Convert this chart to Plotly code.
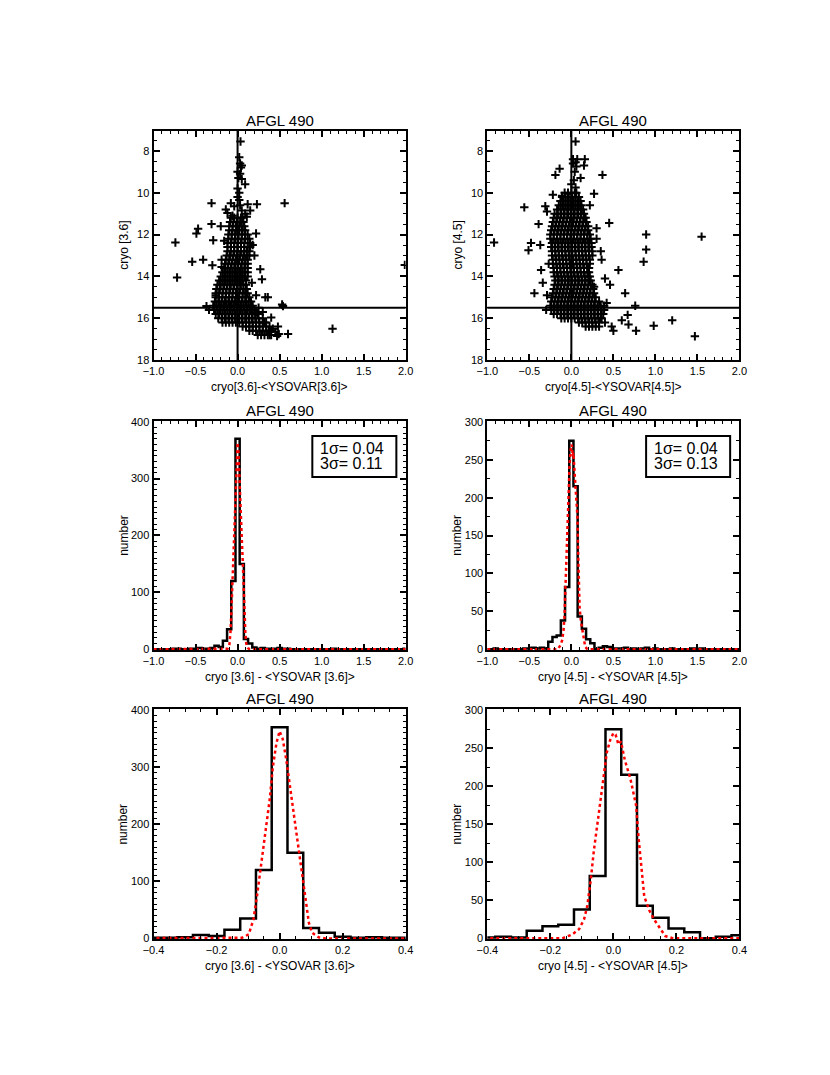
import plotly.graph_objects as go

W, H = 830, 1075
FONT = 'Liberation Sans, Arial, Helvetica, sans-serif'

# ---------------- data ----------------
# [3.6] scatter: cryo[3.6] - <YSOVAR[3.6]> against cryo [3.6]
# dense part of the cloud, one row per magnitude level: (mag, [dx, ...])
core_36 = [
    (11.2, [-0.08, -0.04, 0.00, 0.04, 0.06]),
    (11.4, [-0.09, -0.05, -0.01, 0.03, 0.07]),
    (11.6, [-0.10, -0.06, -0.02, 0.02, 0.05, 0.08]),
    (11.8, [-0.10, -0.06, -0.02, 0.02, 0.06, 0.09]),
    (12.0, [-0.11, -0.07, -0.03, 0.01, 0.05, 0.09, 0.12]),
    (12.2, [-0.11, -0.07, -0.03, 0.01, 0.05, 0.09, 0.14]),
    (12.4, [-0.12, -0.08, -0.04, 0.00, 0.04, 0.08, 0.12, 0.15]),
    (12.6, [-0.12, -0.08, -0.04, 0.00, 0.04, 0.08, 0.12, 0.15]),
    (12.8, [-0.12, -0.08, -0.04, 0.00, 0.04, 0.08, 0.11, 0.14]),
    (13.0, [-0.13, -0.09, -0.05, -0.01, 0.03, 0.07, 0.11, 0.14]),
    (13.2, [-0.14, -0.10, -0.06, -0.02, 0.02, 0.06, 0.09, 0.12]),
    (13.4, [-0.15, -0.11, -0.07, -0.03, 0.01, 0.05, 0.09, 0.12]),
    (13.6, [-0.16, -0.12, -0.08, -0.04, 0.00, 0.04, 0.08, 0.12]),
    (13.8, [-0.18, -0.14, -0.10, -0.06, -0.02, 0.02, 0.06, 0.09, 0.12]),
    (14.0, [-0.20, -0.16, -0.12, -0.08, -0.04, 0.00, 0.04, 0.08, 0.12]),
    (14.2, [-0.22, -0.18, -0.14, -0.10, -0.06, -0.02, 0.02, 0.06, 0.10]),
    (14.4, [-0.24, -0.20, -0.16, -0.12, -0.08, -0.04, 0.00, 0.04, 0.07, 0.10]),
    (14.6, [-0.25, -0.21, -0.17, -0.13, -0.09, -0.05, -0.01, 0.03, 0.07, 0.11]),
    (14.8, [-0.26, -0.22, -0.18, -0.14, -0.10, -0.06, -0.02, 0.02, 0.06, 0.09, 0.12]),
    (15.0, [-0.26, -0.22, -0.18, -0.14, -0.10, -0.06, -0.02, 0.02, 0.06, 0.10, 0.14]),
    (15.2, [-0.27, -0.23, -0.19, -0.15, -0.11, -0.07, -0.03, 0.01, 0.05, 0.09,
            0.13, 0.16]),
    (15.4, [-0.29, -0.25, -0.21, -0.17, -0.13, -0.09, -0.05, -0.01, 0.03, 0.07,
            0.11, 0.15, 0.18]),
    (15.6, [-0.28, -0.24, -0.20, -0.16, -0.12, -0.08, -0.04, 0.00, 0.04, 0.08,
            0.12, 0.16, 0.20]),
    (15.8, [-0.26, -0.22, -0.18, -0.14, -0.10, -0.06, -0.02, 0.02, 0.06, 0.10,
            0.14, 0.18, 0.21, 0.24]),
    (16.0, [-0.23, -0.19, -0.15, -0.11, -0.07, -0.03, 0.01, 0.05, 0.09, 0.13,
            0.17, 0.21, 0.25, 0.30]),
    (16.2, [-0.18, -0.14, -0.10, -0.06, -0.02, 0.02, 0.06, 0.10, 0.14, 0.18,
            0.22, 0.26, 0.30, 0.34]),
    (16.4, [0.06, 0.10, 0.14, 0.18, 0.22, 0.26, 0.30, 0.34, 0.38]),
    (16.6, [0.14, 0.18, 0.22, 0.26, 0.30, 0.34, 0.37, 0.40]),
    (16.8, [0.24, 0.28, 0.32, 0.36, 0.40]),
]
# sparse points and outliers
edge_36 = [
    (0.035, 7.55), (0.02, 8.3), (0.03, 8.6), (0.05, 8.7), (0.04, 8.8),
    (0.00, 9.0), (0.03, 9.1), (0.01, 9.3), (0.05, 9.35), (0.09, 9.6),
    (0.00, 9.8), (0.02, 10.0), (0.00, 10.2), (0.02, 10.35),
    (-0.31, 10.5), (0.56, 10.5), (-0.08, 10.5), (0.12, 10.55), (0.23, 10.55),
    (-0.04, 10.65), (0.03, 10.6), (0.15, 10.85), (-0.14, 10.8), (0.05, 10.85),
    (-0.12, 10.97), (0.09, 11.0), (-0.06, 11.1), (0.11, 11.15),
    (-0.31, 11.5), (-0.20, 11.6), (-0.47, 11.72), (-0.49, 11.95), (-0.74, 12.38),
    (-0.29, 12.27), (-0.16, 12.3), (0.22, 11.95), (-0.54, 13.3), (-0.41, 13.2),
    (-0.30, 13.47), (-0.19, 13.2), (-0.19, 13.55), (-0.72, 14.05), (0.27, 13.66),
    (0.29, 14.14), (0.33, 15.0), (0.36, 15.0), (0.53, 15.34), (0.54, 15.42),
    (0.22, 15.73), (0.40, 15.97), (1.13, 16.5), (0.60, 16.75), (0.48, 16.4),
    (0.49, 16.75), (0.47, 16.85), (-0.37, 15.42), (-0.34, 15.6), (1.99, 13.45),
    (-0.25, 14.6), (-0.26, 14.9), (0.18, 12.5), (0.20, 13.0), (0.17, 14.3),
    (0.22, 14.9), (0.25, 15.5), (0.30, 15.7), (0.32, 16.2), (0.42, 16.5),
    (0.45, 16.65), (0.38, 16.8),
]

# [4.5] scatter
core_45 = [
    (10.0, [-0.08, -0.04, 0.00, 0.04, 0.06]),
    (10.2, [-0.11, -0.07, -0.03, 0.01, 0.05, 0.09]),
    (10.4, [-0.13, -0.09, -0.05, -0.01, 0.03, 0.07, 0.11]),
    (10.6, [-0.15, -0.11, -0.07, -0.03, 0.01, 0.05, 0.09, 0.12]),
    (10.8, [-0.17, -0.13, -0.09, -0.05, -0.01, 0.03, 0.07, 0.11, 0.14]),
    (11.0, [-0.20, -0.16, -0.12, -0.08, -0.04, 0.00, 0.04, 0.08, 0.12, 0.15]),
    (11.2, [-0.21, -0.17, -0.13, -0.09, -0.05, -0.01, 0.03, 0.07, 0.11, 0.15,
            0.17]),
    (11.4, [-0.22, -0.18, -0.14, -0.10, -0.06, -0.02, 0.02, 0.06, 0.10, 0.14,
            0.18]),
    (11.6, [-0.23, -0.19, -0.15, -0.11, -0.07, -0.03, 0.01, 0.05, 0.09, 0.13,
            0.17, 0.20]),
    (11.8, [-0.24, -0.20, -0.16, -0.12, -0.08, -0.04, 0.00, 0.04, 0.08, 0.12,
            0.16, 0.20]),
    (12.0, [-0.25, -0.21, -0.17, -0.13, -0.09, -0.05, -0.01, 0.03, 0.07, 0.11,
            0.15, 0.19, 0.22]),
    (12.2, [-0.25, -0.21, -0.17, -0.13, -0.09, -0.05, -0.01, 0.03, 0.07, 0.11,
            0.15, 0.19, 0.23]),
    (12.4, [-0.23, -0.19, -0.15, -0.11, -0.07, -0.03, 0.01, 0.05, 0.09, 0.13,
            0.17, 0.21, 0.24]),
    (12.6, [-0.24, -0.20, -0.16, -0.12, -0.08, -0.04, 0.00, 0.04, 0.08, 0.12,
            0.16, 0.20, 0.24]),
    (12.8, [-0.23, -0.19, -0.15, -0.11, -0.07, -0.03, 0.01, 0.05, 0.09, 0.13,
            0.17, 0.21, 0.25]),
    (13.0, [-0.23, -0.19, -0.15, -0.11, -0.07, -0.03, 0.01, 0.05, 0.09, 0.13,
            0.17, 0.21, 0.25]),
    (13.2, [-0.22, -0.18, -0.14, -0.10, -0.06, -0.02, 0.02, 0.06, 0.10, 0.14,
            0.18, 0.22]),
    (13.4, [-0.22, -0.18, -0.14, -0.10, -0.06, -0.02, 0.02, 0.06, 0.10, 0.14,
            0.18, 0.22]),
    (13.6, [-0.21, -0.17, -0.13, -0.09, -0.05, -0.01, 0.03, 0.07, 0.11, 0.15,
            0.19, 0.21]),
    (13.8, [-0.21, -0.17, -0.13, -0.09, -0.05, -0.01, 0.03, 0.07, 0.11, 0.15,
            0.19, 0.21]),
    (14.0, [-0.20, -0.16, -0.12, -0.08, -0.04, 0.00, 0.04, 0.08, 0.12, 0.16,
            0.20, 0.22]),
    (14.2, [-0.19, -0.15, -0.11, -0.07, -0.03, 0.01, 0.05, 0.09, 0.13, 0.17,
            0.21, 0.23]),
    (14.4, [-0.20, -0.16, -0.12, -0.08, -0.04, 0.00, 0.04, 0.08, 0.12, 0.16,
            0.20, 0.25]),
    (14.6, [-0.21, -0.17, -0.13, -0.09, -0.05, -0.01, 0.03, 0.07, 0.11, 0.15,
            0.19, 0.23, 0.26]),
    (14.8, [-0.22, -0.18, -0.14, -0.10, -0.06, -0.02, 0.02, 0.06, 0.10, 0.14,
            0.18, 0.22, 0.27]),
    (15.0, [-0.23, -0.19, -0.15, -0.11, -0.07, -0.03, 0.01, 0.05, 0.09, 0.13,
            0.17, 0.21, 0.25, 0.29]),
    (15.2, [-0.24, -0.20, -0.16, -0.12, -0.08, -0.04, 0.00, 0.04, 0.08, 0.12,
            0.16, 0.20, 0.24, 0.28, 0.33]),
    (15.4, [-0.25, -0.21, -0.17, -0.13, -0.09, -0.05, -0.01, 0.03, 0.07, 0.11,
            0.15, 0.19, 0.23, 0.27, 0.31, 0.35, 0.39]),
    (15.6, [-0.24, -0.20, -0.16, -0.12, -0.08, -0.04, 0.00, 0.04, 0.08, 0.12,
            0.16, 0.20, 0.24, 0.28, 0.32, 0.36, 0.39]),
    (15.8, [-0.21, -0.17, -0.13, -0.09, -0.05, -0.01, 0.03, 0.07, 0.11, 0.15,
            0.19, 0.23, 0.27, 0.31, 0.35, 0.38]),
    (16.0, [-0.12, -0.08, -0.04, 0.00, 0.04, 0.08, 0.12, 0.16, 0.20, 0.24,
            0.28, 0.32, 0.36]),
    (16.2, [0.09, 0.13, 0.17, 0.21, 0.25, 0.29, 0.33]),
    (16.4, [0.17, 0.21, 0.25, 0.29, 0.33]),
]
edge_45 = [
    (0.05, 7.55), (0.02, 8.4), (0.05, 8.55), (0.07, 8.4), (0.16, 8.4),
    (0.15, 8.7), (0.06, 8.75), (0.02, 8.6), (-0.14, 8.85), (-0.19, 9.15),
    (0.37, 9.15), (0.11, 9.3), (0.04, 9.0), (0.03, 9.4), (0.00, 9.6),
    (0.05, 9.75), (-0.22, 10.1), (-0.11, 10.15), (-0.04, 10.05), (0.27, 10.05),
    (-0.56, 10.7), (-0.31, 10.65), (-0.29, 10.9), (0.22, 10.6), (0.45, 11.45),
    (-0.39, 11.5), (0.89, 12.0), (1.55, 12.1), (-0.92, 12.38), (-0.48, 12.4),
    (-0.51, 12.75), (-0.37, 12.5), (0.89, 12.72), (0.86, 13.3), (0.35, 12.8),
    (0.36, 13.2), (0.56, 13.7), (-0.36, 13.7), (0.40, 14.1), (0.46, 14.4),
    (-0.44, 14.8), (-0.34, 14.3), (-0.29, 14.9), (0.64, 14.8), (0.27, 14.5),
    (0.76, 15.4), (0.42, 15.27), (0.67, 15.84), (0.60, 16.1), (0.68, 16.3),
    (0.77, 16.6), (0.98, 16.36), (1.20, 16.1), (1.47, 16.86), (0.48, 16.4),
    (0.50, 16.6), (0.35, 16.0), (0.40, 16.2), (-0.30, 15.6), (-0.27, 13.4),
    (0.30, 12.2), (0.30, 11.7),
]

# histograms, 0.05 wide bins
bin_centres = [
    -1.00, -0.95, -0.90, -0.85, -0.80, -0.75, -0.70, -0.65, -0.60, -0.55,
    -0.50, -0.45, -0.40, -0.35, -0.30, -0.25, -0.20, -0.15, -0.10, -0.05,
    0.00, 0.05, 0.10, 0.15, 0.20, 0.25, 0.30, 0.35, 0.40, 0.45,
    0.50, 0.55, 0.60, 0.65, 0.70, 0.75, 0.80, 0.85, 0.90, 0.95,
    1.00, 1.05, 1.10, 1.15, 1.20, 1.25, 1.30, 1.35, 1.40, 1.45,
    1.50, 1.55, 1.60, 1.65, 1.70, 1.75, 1.80, 1.85, 1.90, 1.95,
    2.00,
]
counts_36 = [
    0, 0, 0, 0, 0, 1, 1, 0, 0, 1,
    1, 2, 1, 1, 2, 6, 4, 15, 35, 120,
    370, 150, 18, 10, 3, 1, 2, 1, 1, 1,
    2, 1, 1, 0, 0, 0, 0, 0, 0, 0,
    0, 0, 0, 1, 0, 0, 0, 0, 0, 0,
    0, 0, 0, 0, 0, 0, 0, 0, 0, 0,
    1,
]
counts_45 = [
    0, 0, 1, 0, 0, 0, 0, 0, 0, 1,
    1, 2, 1, 2, 1, 10, 16, 18, 38, 82,
    275, 215, 43, 27, 13, 8, 0, 2, 4, 3,
    1, 1, 1, 2, 0, 1, 0, 1, 2, 0,
    1, 0, 0, 0, 1, 0, 0, 0, 0, 1,
    0, 1, 0, 0, 0, 0, 0, 0, 0, 0,
    0,
]

# gaussian fits (red dotted)
fit36_x = [-1.0, -0.15, -0.12, -0.098, -0.083, -0.072, -0.062, -0.052, -0.041,
           -0.031, -0.021, -0.010, 0.0, 0.010, 0.021, 0.031, 0.041, 0.052,
           0.062, 0.072, 0.083, 0.093, 0.103, 0.124, 0.145, 2.0]
fit36_y = [0, 0, 1, 7, 33, 73, 113, 153, 199, 245, 302, 342, 363, 349, 314,
           274, 228, 188, 153, 107, 61, 27, 10, 2, 0, 0]
fit45_x = [-1.0, -0.162, -0.131, -0.109, -0.093, -0.083, -0.072, -0.062,
           -0.047, -0.031, -0.021, -0.010, 0.0, 0.007, 0.016, 0.024, 0.036,
           0.054, 0.072, 0.080, 0.088, 0.098, 0.114, 0.129, 0.150, 0.165,
           0.19, 2.0]
fit45_y = [0, 0, 5, 12, 25, 42, 76, 115, 162, 214, 244, 261, 270, 268, 255,
           259, 235, 210, 175, 132, 98, 55, 37, 25, 12, 3, 0, 0]

sigma_36 = ['1\u03c3= 0.04', '3\u03c3= 0.11']
sigma_45 = ['1\u03c3= 0.04', '3\u03c3= 0.13']

title = 'AFGL 490'
xtitles = ['cryo[3.6]-<YSOVAR[3.6]>', 'cryo[4.5]-<YSOVAR[4.5]>',
           'cryo [3.6] - <YSOVAR [3.6]>', 'cryo [4.5] - <YSOVAR [4.5]>',
           'cryo [3.6] - <YSOVAR [3.6]>', 'cryo [4.5] - <YSOVAR [4.5]>']
ytitles = ['cryo [3.6]', 'cryo [4.5]', 'number', 'number', 'number', 'number']

# ---------------- layout (pixels) ----------------
COLS = [(137.7, 395.7), (479.3, 737.3)]
ROWS = [(118.3, 350.0), (411.7, 643.3), (703.3, 935.7)]


def px(x):
    return x / W


def py(y):
    return 1 - y / H


def flatten(core, edge):
    xs, ys = [], []
    for mag, dxs in core:
        xs += dxs
        ys += [mag] * len(dxs)
    for dx, mag in edge:
        xs.append(dx)
        ys.append(mag)
    return xs, ys


def axis(rng, dtick, minor, fmt=None):
    d = dict(range=rng, dtick=dtick, tick0=0, showline=True, linecolor='black',
             linewidth=2, mirror='allticks', ticks='inside', ticklen=6,
             tickwidth=1.5, tickcolor='black', showgrid=False, zeroline=False,
             minor=dict(ticks='inside', ticklen=3, tickwidth=1.2,
                        tickcolor='black', dtick=minor, tick0=0),
             tickfont=dict(size=11, color='black', family=FONT))
    if fmt:
        d['tickformat'] = fmt
    return d


fig = go.Figure()
layout = dict(width=W, height=H, margin=dict(t=0, l=0, r=0, b=0),
              plot_bgcolor='white', paper_bgcolor='white', showlegend=False,
              font=dict(family=FONT, color='black'))
annotations, shapes = [], []

scatter_sets = [flatten(core_36, edge_36), flatten(core_45, edge_45)]
hist_sets = [(counts_36, fit36_x, fit36_y), (counts_45, fit45_x, fit45_y)]

for n in range(6):
    row, col = divmod(n, 2)
    i = n + 1
    xa, ya = f'x{i}' if i > 1 else 'x', f'y{i}' if i > 1 else 'y'
    x0, x1 = COLS[col]
    y0, y1 = ROWS[row]
    xkey, ykey = f'xaxis{i}', f'yaxis{i}'

    if row == 0:
        xs, ys = scatter_sets[col]
        fig.add_trace(go.Scatter(
            x=xs, y=ys, mode='markers', xaxis=xa, yaxis=ya,
            marker=dict(symbol='cross-thin', size=6, color='black',
                        line=dict(width=2, color='black'))))
        layout[xkey] = axis([-1, 2], 0.5, 0.1, '.1f')
        layout[ykey] = axis([18, 7.05], 2, 0.5)
        shapes.append(dict(type='line', xref=f'{xa} domain', x0=0, x1=1,
                           yref=ya, y0=15.5, y1=15.5,
                           line=dict(color='black', width=2)))
        shapes.append(dict(type='line', xref=xa, x0=0, x1=0,
                           yref=f'{ya} domain', y0=0, y1=1,
                           line=dict(color='black', width=2)))
    else:
        counts, fx, fy = hist_sets[col]
        fig.add_trace(go.Scatter(
            x=bin_centres, y=counts, mode='lines', xaxis=xa, yaxis=ya,
            line=dict(shape='hvh', color='black', width=2.5)))
        fig.add_trace(go.Scatter(
            x=fx, y=fy, mode='lines', xaxis=xa, yaxis=ya,
            line=dict(color='red', width=2.5, dash='3px,3px')))
        if row == 1:
            layout[xkey] = axis([-1, 2], 0.5, 0.1, '.1f')
        else:
            layout[xkey] = axis([-0.4, 0.4], 0.2, 0.05, '.1f')
        if col == 0:
            layout[ykey] = axis([-1.5, 401], 100, 10)
        else:
            layout[ykey] = axis([-1.2, 301], 50, 25)

    layout[xkey].update(domain=[px(x0), px(x1)], anchor=ya)
    layout[ykey].update(domain=[py(y1), py(y0)], anchor=xa)

    cx = (x0 + x1) / 2
    annotations.append(dict(text=title, x=px(cx), y=py(y0 - 11), xref='paper',
                            yref='paper', showarrow=False, xanchor='center',
                            yanchor='middle', font=dict(size=15)))
    annotations.append(dict(text=xtitles[n], x=px(cx), y=py(y1 + 27),
                            xref='paper', yref='paper', showarrow=False,
                            xanchor='center', yanchor='middle',
                            font=dict(size=12)))
    annotations.append(dict(text=ytitles[n], x=px(x0 - 31), y=py((y0 + y1) / 2),
                            xref='paper', yref='paper', showarrow=False,
                            xanchor='center', yanchor='middle', textangle=-90,
                            font=dict(size=12)))

    if row == 1:
        lines = sigma_36 if col == 0 else sigma_45
        bx0 = x0 + 162.5
        shapes.append(dict(type='rect', xref='paper', yref='paper',
                           x0=px(bx0), x1=px(bx0 + 86), y0=py(468.3), y1=py(426.7),
                           line=dict(color='black', width=2)))
        for k, txt in enumerate(lines):
            annotations.append(dict(text=txt, x=px(bx0 + 6), y=py(439 + 15.3 * k),
                                    xref='paper', yref='paper', showarrow=False,
                                    xanchor='left', yanchor='middle',
                                    font=dict(size=16)))

layout['annotations'] = annotations
layout['shapes'] = shapes
fig.update_layout(**layout)

fig.write_html('out.html')
